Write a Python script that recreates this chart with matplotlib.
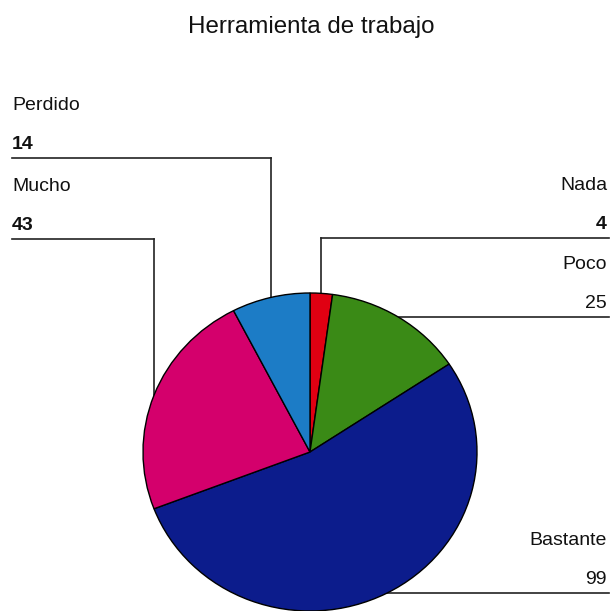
import numpy as np
import matplotlib.pyplot as plt

plt.rcParams['font.family'] = ['Liberation Sans', 'DejaVu Sans']

categorias = ['Nada', 'Poco', 'Bastante', 'Mucho', 'Perdido']
valores = [4, 25, 99, 43, 14]
colores = ['#e00012', '#3a8a16', '#0c1c8c', '#d4006c', '#1c7cc6']
titulo = 'Herramienta de trabajo'

# Geometria en pixeles (la imagen original esta un poco achatada)
W = H = 611
cx, cy = 310, 452
rx, ry = 167, 159

fig = plt.figure(figsize=(W / 100, H / 100), dpi=100)

# capa de texto y lineas en coordenadas de pixel
ov = fig.add_axes([0, 0, 1, 1])
ov.set_xlim(0, W)
ov.set_ylim(H, 0)
ov.axis('off')

# pie en su propio eje, aspecto libre
ax = fig.add_axes([(cx - rx) / W, (H - cy - ry) / H, 2 * rx / W, 2 * ry / H])
wedges, _ = ax.pie(valores, colors=colores, startangle=90, counterclock=False,
                   radius=1, wedgeprops=dict(edgecolor='black', linewidth=1.0))
ax.set_xlim(-1, 1)
ax.set_ylim(-1, 1)
ax.set_aspect('auto')
ax.axis('off')

ov.text(311, 33, titulo, fontsize=17.4, ha='center', va='baseline', color='#111111')

# (lado, y de la linea horizontal o None si va directo, negrita del valor)
etiquetas = {
    'Perdido': ('left', 158, True),
    'Mucho': ('left', 239, True),
    'Nada': ('right', 238, True),
    'Poco': ('right', None, False),
    'Bastante': ('right', None, False),
}

for w, nombre, v in zip(wedges, categorias, valores):
    ang = np.deg2rad((w.theta1 + w.theta2) / 2)
    px = cx + rx * np.cos(ang)
    py = cy - ry * np.sin(ang)
    lado, ly, negrita = etiquetas[nombre]
    if ly is None:
        ly = py
    if lado == 'left':
        xt, ha = 12, 'left'
        ov.plot([12, px], [ly, ly], color='#222222', lw=1.2)
    else:
        xt, ha = 607, 'right'
        ov.plot([px, 609], [ly, ly], color='#222222', lw=1.2)
    if abs(ly - py) > 1:
        ov.plot([px, px], [ly, py], color='#222222', lw=1.2)
    ov.text(xt, ly - 48, nombre, fontsize=14, ha=ha, va='baseline', color='#111111')
    ov.text(xt, ly - 9, str(v), fontsize=14, ha=ha, va='baseline', color='#111111',
            fontweight='bold' if negrita else 'normal')

fig.savefig('out.png', dpi=100, facecolor='white')
